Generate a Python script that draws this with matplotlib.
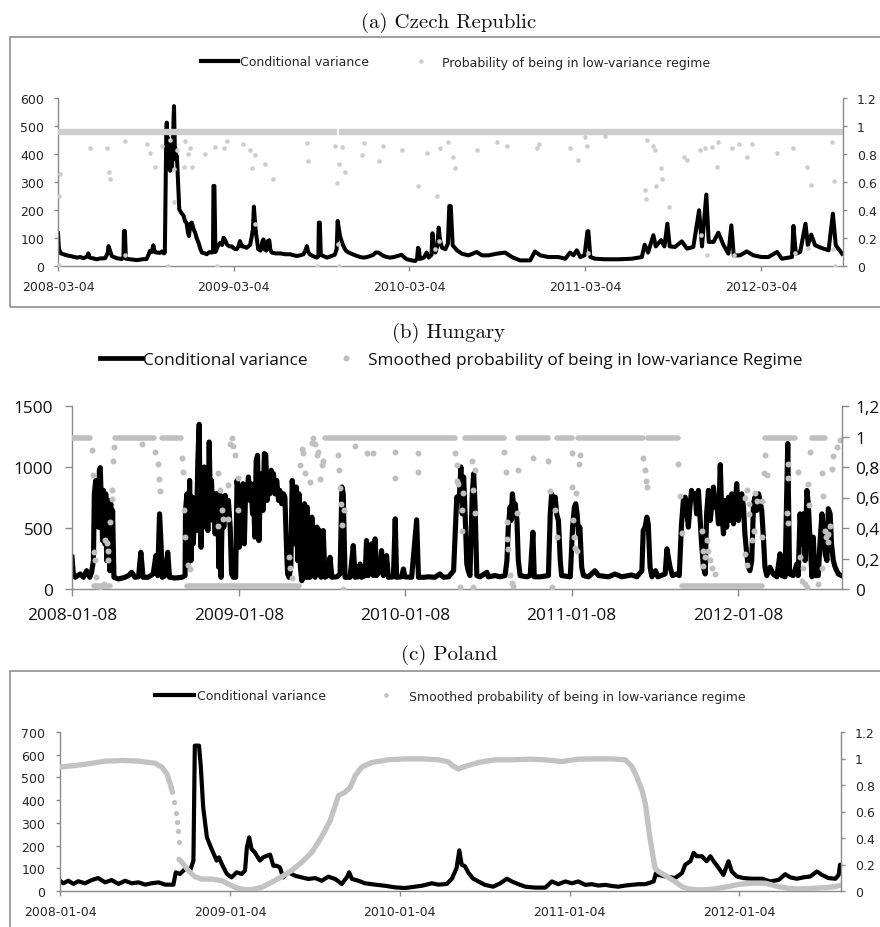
import numpy as np
import matplotlib
matplotlib.use("Agg")
import matplotlib.pyplot as plt
import matplotlib.dates as mdates
from matplotlib.lines import Line2D
from matplotlib.patches import Rectangle

W, H = 880, 928

# ---------------- (a) Czech Republic (x = days after 2008-03-04) ----------------
cz_start = "2008-03-04"
cz_ticks = ["2008-03-04", "2009-03-04", "2010-03-04", "2011-03-04", "2012-03-04"]
cz_last = 1631
cz_var = [(0,117),(2,60),(6,45),(11,42),(18,38),(25,36),(32,33),(39,30),(46,32),(53,28),(60,33),(63,45),
          (66,30),(74,27),(80,24),(88,27),(98,28),(103,45),(105,71),(108,55),(112,35),(122,28),(132,25),
          (136,30),(137,125),(139,125),(141,26),(150,24),(164,21),(175,24),(184,25),(188,40),(191,54),
          (195,50),(198,74),(201,50),(205,48),(212,47),(216,52),(220,45),(222,48),(224,330),(225,480),
          (226,512),(227,400),(228,460),(229,350),(230,440),(231,380),(232,420),(233,340),(234,430),
          (235,360),(236,400),(237,350),(238,430),(239,450),(240,520),(241,571),(242,480),(243,400),
          (244,420),(245,380),(247,393),(250,280),(252,202),
          (256,190),(261,179),(264,160),(267,155),(270,120),(272,107),(275,150),(278,155),(282,130),
          (285,119),(288,100),(292,83),(296,60),(299,48),(305,45),(309,42),(315,50),(319,48),(322,50),
          (323,286),(325,286),(327,50),(332,70),(337,83),(341,75),(344,101),(348,90),(351,77),(356,70),
          (361,70),(366,62),(371,60),(375,70),(378,89),(382,70),(385,70),(392,65),(399,75),(402,100),
          (405,131),(407,212),(410,140),(412,110),(416,60),(421,55),(425,90),(427,95),(429,60),(433,55),
          (436,89),(439,92),(441,60),(444,48),(452,45),(462,45),(472,42),(482,42),(490,38),(496,36),
          (503,38),(510,42),(514,55),(517,71),(520,50),(523,42),(530,35),(538,30),(541,35),(542,155),
          (544,155),(546,40),(552,35),(559,30),(564,33),(569,36),(575,40),(579,60),(581,161),(583,140),
          (586,107),(589,90),(593,71),(598,55),(604,48),(612,42),(621,36),(628,32),(635,30),(642,32),
          (649,36),(655,40),(660,48),(666,48),(671,42),(676,36),(683,32),(690,30),(698,32),(706,36),
          (714,40),(720,30),(725,24),(735,20),(742,18),(746,25),(748,65),(750,60),(752,25),(760,30),
          (766,48),(770,30),(776,40),(778,117),(780,80),(784,48),(788,70),(791,137),(794,90),(798,65),
          (805,60),(810,80),(813,214),(816,214),(820,74),(829,56),(839,44),(853,38),(870,50),(881,38),
          (894,38),(912,44),(929,48),(943,32),(960,20),(981,20),(991,52),(1002,38),(1019,32),(1040,32),
          (1054,26),(1064,48),(1071,38),(1078,56),(1085,32),(1094,38),(1100,124),(1102,124),(1106,32),
          (1116,26),(1137,24),(1165,24),(1192,26),(1213,32),(1219,76),(1226,48),(1237,110),(1242,70),
          (1253,92),(1260,70),(1266,151),(1271,70),(1282,68),(1296,88),(1307,62),(1320,68),(1332,199),
          (1338,70),(1347,255),(1352,86),(1362,86),(1372,119),(1383,74),(1393,44),(1399,145),(1404,38),
          (1417,38),(1431,52),(1445,38),(1462,32),(1476,32),(1494,50),(1504,26),(1525,32),(1528,143),
          (1533,44),(1542,50),(1553,151),(1558,74),(1565,112),(1573,74),(1587,64),(1601,56),(1610,187),
          (1616,74),(1629,44)]
cz_band = [(0, 579), (584, 1631)]
cz_band_p = 0.958
cz_dots = [(4,.655),(3,.50),(2,.01),(67,.84),(101,.845),(105,.67),(108,.62),(139,.89),(139,.08),(184,.87),
           (191,.81),(202,.71),(216,.86),(229,0),(233,.90),(240,.69),(241,.46),(247,.83),(261,.71),(264,.89),
           (271,.80),(275,.84),(278,.71),(306,.80),(326,.85),(330,0),(344,.84),(351,.89),(385,.87),(399,.83),
           (403,.70),(410,.79),(410,.30),(430,.73),(446,.62),(517,.88),(520,.75),(538,0),(576,.86),(579,.59),
           (581,.155),(583,.73),(583,0),(590,.85),(597,.67),(631,.79),(635,.88),(666,.75),(676,.86),(714,.83),
           (749,.57),(766,.81),(784,.12),(787,.50),(791,.18),(794,.84),(811,.886),(820,.78),(824,.70),
           (870,.83),(912,.886),(932,.86),(995,.84),(999,.87),(1064,.84),(1080,.755),(1095,.92),(1099,.86),
           (1102,.09),(1137,.93),(1223,.90),(1237,.86),(1241,.83),(1220,.54),(1222,.48),(1242,.57),(1253,.70),
           (1255,.62),(1269,.42),(1300,.78),(1307,.76),(1334,.83),(1336,.22),(1345,.84),(1348,.08),(1359,.85),
           (1369,.71),(1372,.886),(1400,.84),(1404,.08),(1414,.87),(1431,.78),(1442,.87),(1494,.81),
           (1528,.84),(1532,.09),(1556,.71),(1558,.13),(1565,.58),(1608,.886),(1613,.61),(1611,.12),(1615,0)]

# ---------------- (b) Hungary (x = days after 2008-01-08) ----------------
hu_start = "2008-01-08"
hu_ticks = ["2008-01-08", "2009-01-08", "2010-01-08", "2011-01-08", "2012-01-08"]
hu_last = 1689
hu_var = [(0,260),(3,123),(7,96),(18,123),(25,96),(32,150),(39,96),(43,137),(47,233),(49,780),(52,890),
          (54,700),(56,863),(58,507),(60,972),(62,995),(65,644),(67,397),(69,808),(72,370),(74,780),(76,233),
          (78,452),(80,726),(83,150),(85,700),(87,178),(89,644),(92,96),(102,82),(116,96),(124,110),(131,137),
          (138,96),(146,100),(151,301),(156,96),(167,96),(178,123),(184,274),(188,110),(192,616),(195,397),
          (198,96),(204,110),(210,301),(214,96),(226,90),(241,96),(248,110),(249,644),(252,780),(255,178),
          (258,890),(261,233),(264,753),(266,370),(270,726),(273,479),(276,1054),(279,1350),(281,644),
          (283,342),(285,780),(287,534),(290,1000),(292,507),(295,863),(298,479),(301,1205),(303,780),
          (306,890),(309,562),(311,780),(314,452),(316,780),(318,700),(320,780),(322,178),(325,767),(327,96),
          (330,753),(333,507),(336,767),(339,700),(343,726),(347,507),(350,123),(354,96),(359,96),(362,890),
          (365,780),(367,342),(370,808),(372,671),(375,863),(378,370),(381,836),(384,780),(387,918),(390,726),
          (393,863),(396,616),(398,836),(401,425),(404,1054),(407,1096),(410,397),(413,780),(416,945),
          (419,644),(422,1110),(425,1100),(428,726),(431,918),(434,780),(437,973),(439,836),(442,945),
          (445,780),(449,890),(453,726),(456,808),(460,699),(464,780),(467,753),(471,288),(473,123),(476,96),
          (480,178),(483,890),(486,780),(489,370),(492,836),(495,233),(498,780),(501,178),(504,68),(507,96),
          (510,699),(513,96),(516,671),(518,96),(522,96),(526,589),(529,452),(533,96),(537,507),(542,479),
          (546,96),(551,479),(555,96),(561,110),(566,260),(570,96),(581,100),(588,123),(592,836),(595,780),
          (599,96),(610,96),(617,356),(621,96),(628,100),(632,205),(635,96),(643,110),(646,397),(650,110),
          (654,315),(657,370),(661,110),(665,411),(668,110),(676,150),(679,315),(683,110),(690,274),(694,96),
          (705,100),(709,575),(712,96),(723,100),(727,164),(730,100),(745,96),(756,567),(760,96),(771,96),
          (782,100),(796,96),(807,123),(815,96),(826,100),(837,150),(844,753),(846,726),(850,780),(853,1000),
          (856,616),(859,918),(862,644),(866,205),(869,150),(873,110),(878,780),(881,945),(884,699),(888,110),
          (895,100),(910,137),(913,100),(928,110),(939,100),(950,110),(954,233),(957,507),(961,671),(963,562),
          (966,780),(969,671),(972,699),(976,562),(979,233),(983,110),(997,100),(1005,110),(1011,466),
          (1014,100),(1027,100),(1045,110),(1049,616),(1052,780),(1056,671),(1060,753),(1063,616),(1067,562),
          (1071,233),(1074,110),(1093,100),(1098,507),(1102,671),(1105,699),(1108,616),(1111,452),(1114,507),
          (1118,178),(1122,110),(1133,100),(1147,150),(1155,110),(1177,100),(1191,123),(1206,100),(1228,115),
          (1239,100),(1250,150),(1253,479),(1257,507),(1261,589),(1264,534),(1268,178),(1272,100),(1280,150),
          (1285,100),(1301,123),(1305,329),(1308,260),(1312,178),(1317,110),(1326,123),(1332,110),(1337,534),
          (1341,726),(1345,753),(1348,644),(1352,507),(1356,699),(1359,808),(1363,753),(1367,780),(1370,616),
          (1374,808),(1378,562),(1381,370),(1385,178),(1389,123),(1392,616),(1396,808),(1400,562),(1403,671),
          (1407,836),(1411,671),(1414,726),(1418,534),(1422,1019),(1425,644),(1429,452),(1433,726),(1436,507),
          (1440,753),(1443,562),(1447,780),(1451,534),(1454,644),(1458,863),(1462,562),(1465,699),(1469,780),
          (1473,671),(1476,452),(1480,288),(1484,178),(1487,150),(1491,233),(1495,699),(1498,753),(1502,644),
          (1506,780),(1509,726),(1513,644),(1517,397),(1520,178),(1524,110),(1531,178),(1538,123),(1546,100),
          (1553,288),(1557,110),(1564,100),(1570,1192),(1574,123),(1582,110),(1590,205),(1593,110),(1597,616),
          (1601,370),(1604,616),(1608,233),(1612,808),(1615,699),(1619,397),(1623,100),(1626,425),(1630,110),
          (1637,110),(1641,397),(1645,616),(1648,507),(1652,288),(1656,233),(1659,658),(1663,616),(1666,370),
          (1670,233),(1674,178),(1681,123),(1688,110)]
hu_high = [(0,40),(94,180),(197,238),(555,840),(862,948),(979,1045),(1063,1096),(1111,1253),(1264,1330),
           (1520,1586),(1623,1652)]
hu_high_p = 0.99
hu_low = [(49,83),(252,497),(1337,1513)]
hu_low_p = 0.02
hu_dots = [(43,.91),(47,.75),(49,.24),(50,.19),(52,.08),(54,.02),(61,.01),(71,.03),(72,.32),(76,.30),(78,.25),
           (80,.19),(83,.44),(87,.59),(88,.65),(91,.84),(93,.93),(153,.95),(182,.90),(188,.82),(191,.72),(192,.64),
           (241,.86),(244,.77),(246,.52),(248,.34),(255,.16),(259,.13),(321,.76),(325,.65),(328,.52),(321,.41),
           (332,.46),(343,.68),(343,.46),(347,.95),(350,.99),(354,.94),(358,.88),(365,.73),(365,.52),(475,.21),
           (478,.14),(482,.07),(500,.81),(504,.92),(507,.89),(511,.76),(522,.70),(526,.96),(529,.99),(533,.95),
           (537,.88),(540,.90),(544,.72),(548,.81),(551,.84),(584,.88),(586,.78),(588,.66),(590,.56),(593,.42),
           (596,.52),(595,0),(621,.94),(646,.89),(661,.89),(709,.90),(709,.73),(760,.89),(760,.77),(840,.89),
           (844,.81),(844,.71),(846,.69),(851,.01),(855,.38),(856,.52),(858,.63),(880,.65),(883,.50),(880,.01),
           (877,.84),(884,.78),(948,.90),(952,.77),(954,.44),(955,.33),(957,.26),(961,.09),(965,.04),(968,.02),
           (976,.50),(979,.78),(1011,.86),(1045,.84),(1049,.64),(1052,.01),(1060,.52),(1063,.34),(1096,.89),
           (1096,.67),(1100,.45),(1102,.34),(1103,.27),(1105,.63),(1107,.25),(1112,.82),(1114,.88),(1253,.86),
           (1257,.78),(1258,.71),(1261,.67),(1330,.82),(1334,.61),(1337,.37),(1381,.38),(1385,.25),(1389,.21),
           (1392,.32),(1396,.25),(1400,.19),(1403,.14),(1385,.15),(1411,.10),(1476,.60),(1480,.65),(1484,.56),
           (1484,.49),(1491,.32),(1495,.38),(1498,.63),(1502,.58),(1513,.58),(1513,.34),(1476,.23),(1480,.16),
           (1517,.76),(1520,.88),(1524,.75),(1571,.82),(1571,.73),(1568,.50),(1571,.43),(1593,.77),(1597,.21),
           (1601,.05),(1604,.14),(1608,.03),(1612,.01),(1615,.69),(1617,.55),(1619,.90),(1637,.03),(1645,.76),
           (1645,.14),(1648,.61),(1652,.38),(1655,.34),(1659,.36),(1663,.41),(1659,.31),(1666,.79),(1670,.87),
           (1677,.93),(1685,.98)]

# ---------------- (c) Poland (x = days after 2008-01-04) ----------------
pl_start = "2008-01-04"
pl_ticks = ["2008-01-04", "2009-01-04", "2010-01-04", "2011-01-04", "2012-01-04"]
pl_last = 1680
pl_var = [(0,45),(7,34),(18,45),(29,31),(39,43),(54,34),(68,48),(82,57),(97,38),(111,48),(126,31),(140,45),
          (154,34),(169,38),(183,28),(197,34),(212,38),(226,28),(244,28),(249,82),(258,75),(269,97),(280,90),
          (287,134),(290,640),(299,640),(303,544),(308,368),(316,236),(326,185),(337,134),(342,148),(348,119),
          (359,75),(369,60),(380,82),(391,75),(398,90),(402,192),(407,236),(412,185),(419,170),(430,134),
          (437,148),(445,155),(452,160),(459,111),(466,111),(473,104),(480,60),(491,82),(506,67),(520,60),
          (534,53),(549,57),(563,45),(577,63),(592,53),(606,31),(617,60),(622,82),(628,53),(642,45),(656,34),
          (678,28),(699,23),(721,16),(742,13),(764,19),(778,23),(800,34),(814,28),(832,31),(843,54),(853,101),
          (859,179),(864,116),(871,109),(879,79),(889,54),(900,42),(914,27),(932,19),(947,34),(961,54),(972,42),
          (986,30),(1001,19),(1022,15),(1044,15),(1058,42),(1072,30),(1087,42),(1101,34),(1115,42),(1130,27),
          (1144,30),(1158,24),(1173,27),(1187,22),(1201,19),(1216,24),(1230,27),(1244,30),(1259,30),(1277,42),
          (1282,79),(1287,71),(1302,64),(1323,57),(1338,79),(1345,116),(1356,131),(1363,168),(1370,153),
          (1381,153),(1391,131),(1399,153),(1406,131),(1417,101),(1427,71),(1438,131),(1445,86),(1456,64),
          (1470,57),(1488,54),(1510,54),(1528,42),(1546,49),(1560,74),(1571,60),(1585,54),(1599,60),(1614,64),
          (1628,86),(1639,71),(1653,57),(1668,54),(1675,71),(1678,116),(1680,90)]
pl_prob = [(0,.935),(32,.947),(61,.96),(97,.98),(133,.985),(169,.98),(204,.965),(219,.935),(230,.884),
           (237,.81),(242,.745),(256,.24),(265,.205),(276,.154),(290,.108),(305,.09),(326,.09),(348,.078),
           (362,.053),(380,.023),(398,.01),(412,.01),(434,.028),(455,.065),(477,.108),(498,.154),(520,.217),
           (541,.29),(556,.37),(570,.456),(581,.53),(592,.645),(599,.72),(613,.745),(624,.78),(635,.87),
           (649,.935),(671,.97),(706,.99),(742,.997),(778,.997),(814,.99),(835,.975),(843,.95),(857,.92),
           (871,.94),(900,.97),(936,.99),(972,.99),(1008,.995),(1044,.99),(1079,.977),(1115,.995),(1151,.997),
           (1187,.997),(1216,.99),(1230,.94),(1241,.86),(1252,.76),(1259,.66),(1264,.53),(1269,.40),(1275,.275),
           (1280,.173),(1287,.148),(1302,.117),(1323,.071),(1338,.033),(1352,.015),(1373,.008),(1402,.013),
           (1438,.033),(1460,.05),(1488,.059),(1517,.059),(1546,.033),(1567,.02),(1589,.015),(1617,.02),
           (1646,.025),(1668,.033),(1682,.046)]
pl_jump = [(246,.67),(249,.59),(251,.52),(253,.456),(255,.37)]


def dnum(start, days):
    return mdates.date2num(np.datetime64(start) + np.asarray(days, dtype="int64").astype("timedelta64[D]"))


def style(ax, ax2, start, last, ticks, ymax, ystep, rlabels, font, fs, color, spc,
          tl_y, tl_x, pad_y, pad_x, pad_r):
    ax.set_xlim(dnum(start, [0])[0], dnum(start, [last])[0])
    ax.set_ylim(0, ymax)
    ax2.set_ylim(0, 1.2)
    ax.set_xticks(mdates.date2num(np.array(ticks, dtype="datetime64[D]")), ticks)
    ax.set_yticks(np.arange(0, ymax + 1, ystep))
    ax2.set_yticks(np.arange(0, 1.21, 0.2), rlabels)
    for s in ["top", "right"]:
        ax.spines[s].set_visible(False)
    for s in ["top", "left", "bottom"]:
        ax2.spines[s].set_visible(False)
    for sp in [ax.spines["left"], ax.spines["bottom"], ax2.spines["right"]]:
        sp.set_color(spc)
        sp.set_linewidth(1.0)
    ax.tick_params(axis="y", direction="out", length=tl_y, width=1, color=spc, pad=pad_y,
                   labelsize=fs, labelcolor=color)
    ax.tick_params(axis="x", direction="out", length=tl_x, width=1, color=spc, pad=pad_x,
                   labelsize=fs, labelcolor=color)
    ax2.tick_params(axis="y", direction="out", length=tl_y, width=1, color=spc, pad=pad_r,
                    labelsize=fs, labelcolor=color)
    for lab in ax.get_xticklabels() + ax.get_yticklabels() + ax2.get_yticklabels():
        lab.set_family(font)
    ax.patch.set_visible(False)


fig = plt.figure(figsize=(W / 100, H / 100), dpi=100)
fig.patch.set_facecolor("white")

def fx(px):
    return px / W

def fy(py):
    return 1 - py / H

title_kw = dict(family="cmr10", size=15, ha="center", va="baseline", color="#111111")
box_kw = dict(transform=fig.transFigure, fill=False, edgecolor="#8f8f8f", linewidth=1.2, clip_on=False)

# ---------------- panel (a) ----------------
fig.text(fx(449), fy(28), "(a) Czech Republic", **title_kw)
fig.add_artist(Rectangle((fx(10), fy(308)), 1.0, (308 - 38) / H, **box_kw))
ax = fig.add_axes([fx(58), fy(267), fx(843) - fx(58), (267 - 99) / H])
ax2 = ax.twinx()
gray_a = "#cdcdcd"
d, v = zip(*cz_var)
ax.plot(dnum(cz_start, d), v, color="black", lw=2.9)
for s, e in cz_band:
    ax2.plot(dnum(cz_start, [s, e]), [cz_band_p, cz_band_p], color=gray_a, lw=4.6, solid_capstyle="butt")
d, p = zip(*cz_dots)
ax2.plot(dnum(cz_start, d), p, "o", ms=3.3, color=gray_a, mec="none")
style(ax, ax2, cz_start, cz_last, cz_ticks, 600, 100,
      ["0", "0.2", "0.4", "0.6", "0.8", "1", "1.2"], "DejaVu Sans", 9, "#262626", "#8a8a8a",
      3, 3.6, 7, 6.5, 7)
h1 = Line2D([], [], color="black", lw=3)
h2 = Line2D([], [], ls="none", marker="o", ms=3.3, color=gray_a, mec="none")
fig.legend([h1, h2], ["Conditional variance", "Probability of being in low-variance regime"],
           loc="center left", bbox_to_anchor=(fx(201), fy(63)), ncol=2, frameon=False,
           prop={"family": "DejaVu Sans", "size": 9}, labelcolor="#262626", borderpad=0,
           borderaxespad=0, handlelength=2.96, handletextpad=0.16, columnspacing=2.7)

# ---------------- panel (b) ----------------
fig.text(fx(449), fy(338), "(b) Hungary", **title_kw)
bx = fig.add_axes([fx(72), fy(590), fx(842) - fx(72), (590 - 407) / H])
bx2 = bx.twinx()
gray_b = "#bfbfbf"
d, v = zip(*hu_var)
bx.plot(dnum(hu_start, d), v, color="black", lw=3.7)
for runs, lvl in [(hu_high, hu_high_p), (hu_low, hu_low_p)]:
    for s, e in runs:
        bx2.plot(dnum(hu_start, [s, e]), [lvl, lvl], color=gray_b, lw=4, solid_capstyle="round")
d, p = zip(*hu_dots)
bx2.plot(dnum(hu_start, d), p, "o", ms=4.3, color=gray_b, mec="none")
style(bx, bx2, hu_start, hu_last, hu_ticks, 1500, 500,
      ["0", "0,2", "0,4", "0,6", "0,8", "1", "1,2"], "Open Sans", 12.4, "#111111", "#8a8a8a",
      5, 5, 8.6, 8, 4.3)
h1 = Line2D([], [], color="black", lw=3.4)
h2 = Line2D([], [], ls="none", marker="o", ms=4.3, color=gray_b, mec="none")
fig.legend([h1, h2], ["Conditional variance", "Smoothed probability of being in low-variance Regime"],
           loc="center left", bbox_to_anchor=(fx(100), fy(361)), ncol=2, frameon=False,
           prop={"family": "Open Sans", "size": 12.4}, labelcolor="#111111", borderpad=0,
           borderaxespad=0, handlelength=2.45, handletextpad=0.06, columnspacing=1.0)

# ---------------- panel (c) ----------------
fig.text(fx(449), fy(660), "(c) Poland", **title_kw)
fig.add_artist(Rectangle((fx(10), fy(940)), 1.0, (940 - 672) / H, **box_kw))
cx = fig.add_axes([fx(60), fy(892), fx(841) - fx(60), (892 - 733) / H])
cx2 = cx.twinx()
gray_c = "#c2c2c2"
d, v = zip(*pl_var)
cx.plot(dnum(pl_start, d), v, color="black", lw=3.0)
d, p = np.array(pl_prob).T
before = d < pl_jump[0][0]
cx2.plot(dnum(pl_start, d[before]), p[before], color=gray_c, lw=3.8, solid_capstyle="round")
cx2.plot(dnum(pl_start, d[~before]), p[~before], color=gray_c, lw=3.8, solid_capstyle="round")
d, p = zip(*pl_jump)
cx2.plot(dnum(pl_start, d), p, "o", ms=3.8, color=gray_c, mec="none")
style(cx, cx2, pl_start, pl_last, pl_ticks, 700, 100,
      ["0", "0.2", "0.4", "0.6", "0.8", "1", "1.2"], "DejaVu Sans", 9, "#262626", "#8a8a8a",
      3, 3.6, 7.5, 6.5, 7)
h1 = Line2D([], [], color="black", lw=3)
h2 = Line2D([], [], ls="none", marker="o", ms=3.3, color=gray_c, mec="none")
fig.legend([h1, h2], ["Conditional variance", "Smoothed probability of being in low-variance regime"],
           loc="center left", bbox_to_anchor=(fx(155), fy(697)), ncol=2, frameon=False,
           prop={"family": "DejaVu Sans", "size": 9}, labelcolor="#262626", borderpad=0,
           borderaxespad=0, handlelength=3.1, handletextpad=0.24, columnspacing=3.3)

fig.savefig("out.png", dpi=100)
